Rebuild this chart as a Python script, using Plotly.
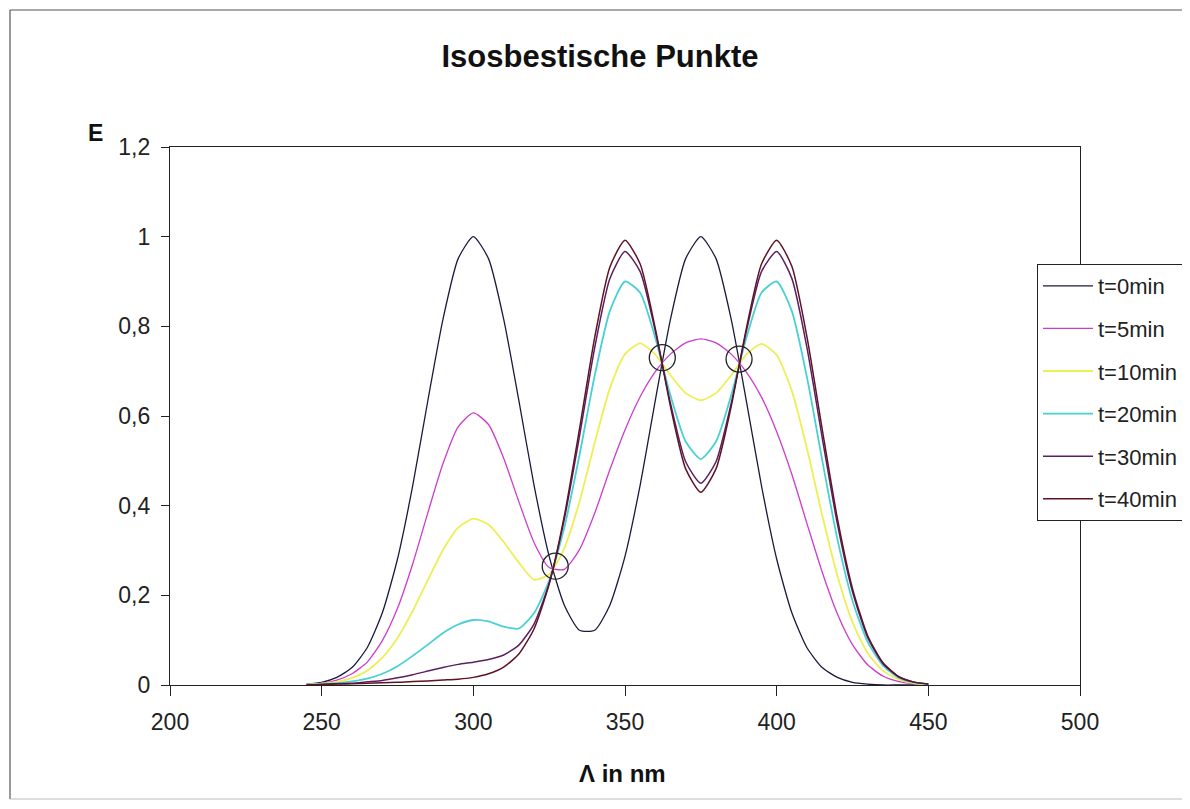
import glob
import plotly.graph_objects as go

# ---------------- data ----------------
wavelength = [245, 250, 255, 260, 265, 270, 275, 280, 285, 290, 295, 300, 305, 310,
              315, 320, 325, 330, 335, 340, 345, 350, 355, 360, 365, 370, 375, 380,
              385, 390, 395, 400, 405, 410, 415, 420, 425, 430, 435, 440, 445, 450]

e_t0 = [0.002, 0.006, 0.017, 0.039, 0.083, 0.161, 0.281, 0.444, 0.634, 0.816, 0.951, 1.000,
        0.951, 0.816, 0.635, 0.446, 0.287, 0.178, 0.122, 0.122, 0.178, 0.287, 0.446, 0.635,
        0.816, 0.951, 1.000, 0.951, 0.816, 0.634, 0.444, 0.281, 0.161, 0.083, 0.039, 0.017,
        0.006, 0.002, 0.0, 0.0, 0.0, 0.0]
e_t5 = [0.001, 0.004, 0.011, 0.025, 0.051, 0.099, 0.171, 0.270, 0.384, 0.494, 0.576, 0.607,
        0.581, 0.506, 0.409, 0.318, 0.262, 0.258, 0.302, 0.383, 0.480, 0.569, 0.643, 0.699,
        0.738, 0.763, 0.772, 0.763, 0.738, 0.698, 0.642, 0.565, 0.470, 0.360, 0.252, 0.159,
        0.090, 0.045, 0.020, 0.008, 0.003, 0.001]
e_t10 = [0.001, 0.003, 0.007, 0.016, 0.032, 0.061, 0.105, 0.165, 0.234, 0.301, 0.351, 0.371,
         0.358, 0.319, 0.273, 0.235, 0.247, 0.305, 0.409, 0.540, 0.661, 0.738, 0.762, 0.737,
         0.691, 0.651, 0.635, 0.651, 0.691, 0.737, 0.761, 0.736, 0.656, 0.527, 0.379, 0.244,
         0.140, 0.071, 0.032, 0.013, 0.004, 0.001]
e_t20 = [0.0, 0.002, 0.004, 0.008, 0.014, 0.025, 0.042, 0.065, 0.090, 0.116, 0.135, 0.145,
         0.142, 0.130, 0.126, 0.160, 0.233, 0.351, 0.513, 0.690, 0.834, 0.900, 0.875, 0.774,
         0.646, 0.543, 0.504, 0.543, 0.646, 0.774, 0.875, 0.900, 0.834, 0.686, 0.502, 0.326,
         0.188, 0.096, 0.044, 0.017, 0.006, 0.002]
e_t30 = [0.0, 0.001, 0.003, 0.004, 0.007, 0.010, 0.016, 0.023, 0.031, 0.039, 0.046, 0.051,
         0.057, 0.067, 0.089, 0.136, 0.227, 0.370, 0.555, 0.752, 0.906, 0.967, 0.922, 0.789,
         0.628, 0.498, 0.450, 0.498, 0.628, 0.789, 0.922, 0.967, 0.907, 0.752, 0.552, 0.360,
         0.208, 0.106, 0.048, 0.019, 0.007, 0.002]
e_t40 = [0.0, 0.001, 0.002, 0.003, 0.004, 0.005, 0.006, 0.008, 0.009, 0.011, 0.013, 0.017,
         0.025, 0.040, 0.069, 0.125, 0.225, 0.377, 0.571, 0.775, 0.932, 0.992, 0.939, 0.795,
         0.621, 0.482, 0.430, 0.482, 0.621, 0.795, 0.939, 0.992, 0.934, 0.776, 0.571, 0.372,
         0.215, 0.110, 0.050, 0.020, 0.007, 0.002]

series_names = ["t=0min", "t=5min", "t=10min", "t=20min", "t=30min", "t=40min"]
series_values = [e_t0, e_t5, e_t10, e_t20, e_t30, e_t40]

iso_x = [327.0, 362.3, 387.6]
iso_y = [0.265, 0.730, 0.727]

x_ticks = [200, 250, 300, 350, 400, 450, 500]
y_ticks = [0, 0.2, 0.4, 0.6, 0.8, 1.0, 1.2]

# ---------------- style ----------------
colors = ["#1a1a40", "#cc3ccc", "#eeee55", "#48d0d4", "#5c1f62", "#5e1424"]
widths = [1.3, 1.3, 1.8, 1.8, 1.5, 1.5]

# page has the default 8px body margin; keep the figure inside the window
OFF = 8
PAGE_W, PAGE_H = 1190, 809
W, H = PAGE_W - 2 * OFF, PAGE_H - 2 * OFF
PL, PR, PT, PB = 170, 1080, 147, 685          # plot area in page pixels
L, T = PL - OFF, PT - OFF
R, B = W - (PR - OFF), H - (PB - OFF)
PW, PH = PR - PL, PB - PT

def px(xp):
    return (xp - PL) / PW

def py(yp):
    return (PB - yp) / PH

have_narrow = bool(glob.glob("/usr/share/fonts/**/LiberationSansNarrow-Regular.ttf", recursive=True))
if have_narrow:
    TICKFONT, TICKSIZE, LEGSIZE = "Liberation Sans Narrow", 27, 26
else:
    TICKFONT, TICKSIZE, LEGSIZE = "Liberation Sans, Arial, sans-serif", 23, 22
BOLD = "Liberation Sans, Arial, sans-serif"

fig = go.Figure()
for i, (name, vals) in enumerate(zip(series_names, series_values)):
    fig.add_trace(go.Scatter(
        x=wavelength, y=vals, mode="lines", name=name,
        line=dict(color=colors[i], width=widths[i], shape="spline", smoothing=0.6),
        legendgroup=name,
    ))

fig.add_trace(go.Scatter(
    x=iso_x, y=iso_y, mode="markers", showlegend=False,
    marker=dict(symbol="circle-open", size=26, color="#222222", line=dict(width=1.3)),
))

fig.update_layout(
    width=W, height=H,
    margin=dict(l=L, r=R, t=T, b=B, autoexpand=False),
    paper_bgcolor="white", plot_bgcolor="white",
    separators=",.",
    font=dict(family=TICKFONT, size=TICKSIZE, color="#111111"),
    title=dict(text="<b>Isosbestische Punkte</b>", x=(600 - OFF) / W, xref="container",
               y=1 - (56 - OFF) / H, yref="container", xanchor="center", yanchor="middle",
               font=dict(family=BOLD, size=31, color="#111111")),
    xaxis=dict(range=[200, 500], tickvals=x_ticks, showgrid=False, zeroline=False,
               showline=True, linecolor="#222222", linewidth=1.3, mirror=True,
               ticks="outside", ticklen=10, tickcolor="#222222", ticklabelstandoff=6,
               tickfont=dict(family=TICKFONT, size=TICKSIZE, color="#222222")),
    yaxis=dict(range=[0, 1.2], tickvals=y_ticks, showgrid=False, zeroline=False,
               showline=True, linecolor="#222222", linewidth=1.3, mirror=True,
               ticks="outside", ticklen=8, tickcolor="#222222", ticklabelstandoff=6,
               tickfont=dict(family=TICKFONT, size=TICKSIZE, color="#222222")),
    legend=dict(x=px(1037), y=py(264), xanchor="left", yanchor="top",
                bordercolor="#222222", borderwidth=1, bgcolor="white",
                font=dict(family=TICKFONT, size=LEGSIZE, color="#222222"),
                traceorder="grouped", tracegroupgap=11, itemwidth=50),
    showlegend=True,
)

# axis labels as annotations
fig.add_annotation(text="<b>E</b>", x=px(95), y=py(133), xref="paper", yref="paper",
                   showarrow=False, xanchor="center", yanchor="middle",
                   font=dict(family=BOLD, size=23, color="#111111"))
fig.add_annotation(text="<b>Λ in nm</b>", x=px(622), y=py(773), xref="paper", yref="paper",
                   showarrow=False, xanchor="center", yanchor="middle",
                   font=dict(family=BOLD, size=24, color="#111111"))

# outer chart frame: top, left and bottom edges (right side runs off the window)
frame = dict(color="#555555", width=1.2)
fig.add_shape(type="line", xref="paper", yref="paper", x0=px(10), x1=px(1230),
              y0=py(10), y1=py(10), line=frame, layer="below")
fig.add_shape(type="line", xref="paper", yref="paper", x0=px(10), x1=px(10),
              y0=py(10), y1=py(799), line=frame, layer="below")
fig.add_shape(type="line", xref="paper", yref="paper", x0=px(10), x1=px(1230),
              y0=py(799), y1=py(799), line=dict(color="#bbbbbb", width=1.2), layer="below")

fig.write_html("out.html")
